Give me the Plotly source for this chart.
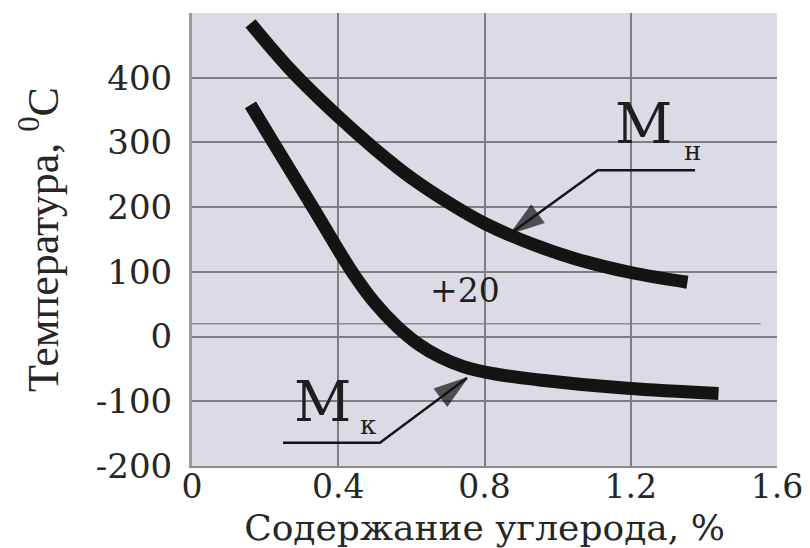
import plotly.graph_objects as go

# Carbon content, % (x) and martensite start / finish temperatures, °C (y)
carbon_ms = [0.16, 0.27, 0.40, 0.50, 0.60, 0.71, 0.80, 0.93, 1.05, 1.20, 1.355]
temp_ms = [484, 412, 340, 290, 245, 204, 175, 143, 120, 99, 84]

carbon_mf = [0.16, 0.22, 0.33, 0.44, 0.50, 0.56, 0.62, 0.68, 0.74, 0.82, 0.95, 1.19, 1.44]
temp_mf = [358, 302, 200, 98, 52, 16, -12, -32, -46, -57, -67, -80, -88]

# Room temperature reference line
room_temp = 20

x_ticks = [0, 0.4, 0.8, 1.2, 1.6]
x_tick_labels = ["0", "0.4", "0.8", "1.2", "1.6"]
y_ticks = [-200, -100, 0, 100, 200, 300, 400]
y_tick_labels = ["-200", "-100", "0", "100", "200", "300", "400"]

WIDE_SERIF = "DejaVu Serif, serif"
SERIF = "Liberation Serif, Times New Roman, serif"
INK = "#141414"
TEXT = "#262626"
GRID = "#7e7e82"

fig = go.Figure()

for xs, ys in ((carbon_ms, temp_ms), (carbon_mf, temp_mf)):
    fig.add_trace(go.Scatter(
        x=xs, y=ys, mode="lines",
        line=dict(color=INK, width=13, shape="spline", smoothing=1.0),
        showlegend=False, hoverinfo="skip",
    ))

# Room-temperature line
fig.add_shape(type="line", xref="x", yref="y", x0=0, x1=1.555,
              y0=room_temp, y1=room_temp,
              line=dict(color="#8e8e92", width=1.5), layer="below")

# Leader lines for the curve labels: a horizontal stroke under the label,
# then a slanted stroke ending in an arrowhead on the curve
leaders = [
    # x of the outer end, x of the bend, arrow tip; matching y values
    ([1.376, 1.110, 0.873], [257, 257, 160]),
    ([0.249, 0.514, 0.752], [-164, -164, -64]),
]
for lx, ly in leaders:
    fig.add_trace(go.Scatter(
        x=lx, y=ly, mode="lines+markers",
        line=dict(color=INK, width=2.5),
        marker=dict(symbol=["circle", "circle", "arrow"], size=[0, 0, 34],
                    angleref="previous", color=INK,
                    line=dict(width=1.5, color=INK)),
        showlegend=False, hoverinfo="skip",
    ))

# Curve labels: М with its subscript, and the room-temperature mark
labels = [
    ("М", 1.234, 330, 56), ("н", 1.368, 287, 26),
    ("М", 0.356, -101, 56), ("к", 0.482, -136, 26),
    ("+20", 0.747, 71, 33),
]
for txt, lx, ly, size in labels:
    fig.add_annotation(x=lx, y=ly, xref="x", yref="y", text=txt,
                       showarrow=False,
                       font=dict(family=WIDE_SERIF, size=size, color="#1e1e1e"))

fig.update_layout(
    width=810, height=548,
    margin=dict(l=192, r=33, t=13, b=82),
    paper_bgcolor="white",
    plot_bgcolor="#dadbe4",
    font=dict(family=WIDE_SERIF, color=TEXT),
    showlegend=False,
)

fig.update_xaxes(
    range=[0, 1.6], tickvals=x_ticks, ticktext=x_tick_labels,
    automargin=False,
    showgrid=True, gridcolor=GRID, gridwidth=2, zeroline=False,
    showline=True, linecolor="#8c8c8c", linewidth=2,
    ticks="", ticklabelstandoff=-10,
    tickfont=dict(family=WIDE_SERIF, size=33, color=TEXT),
    title=dict(text="Содержание углерода, %", standoff=10,
               font=dict(family=WIDE_SERIF, size=36, color=TEXT)),
)
fig.update_yaxes(
    range=[-200, 500], tickvals=y_ticks, ticktext=y_tick_labels,
    automargin=False,
    showgrid=True, gridcolor=GRID, gridwidth=2, zeroline=False,
    showline=True, linecolor="#9c9c9c", linewidth=3,
    ticks="outside", ticklen=10, tickcolor="rgba(0,0,0,0)",
    tickfont=dict(family=WIDE_SERIF, size=34, color=TEXT),
    title=dict(text="Температура, <sup>0</sup>C", standoff=24,
               font=dict(family=SERIF, size=44, color=TEXT)),
)

fig.write_html("out.html")
